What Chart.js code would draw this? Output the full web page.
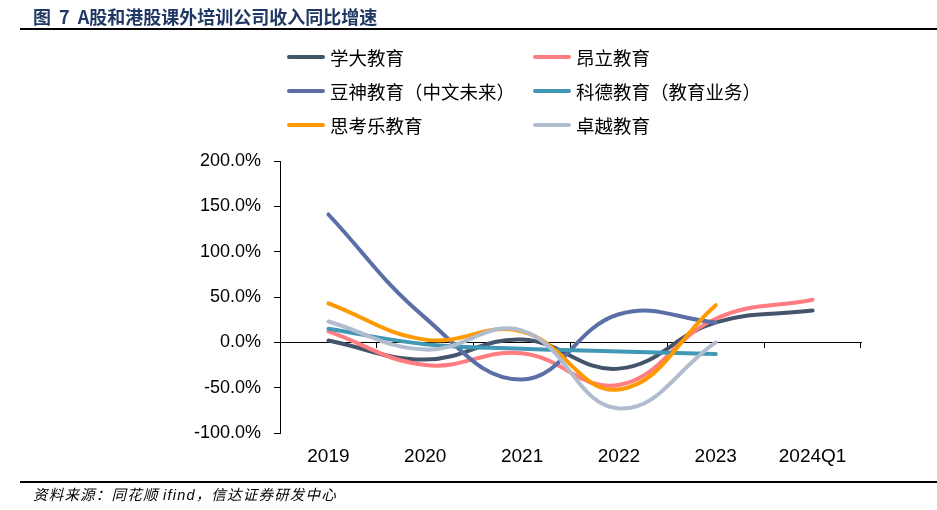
<!DOCTYPE html>
<html>
<head>
<meta charset="utf-8">
<script src="https://cdn.jsdelivr.net/npm/chart.js@4/dist/chart.umd.min.js"></script>
<style>
  body { margin: 0; background: #fff; }
  #wrap { position: relative; width: 937px; height: 510px; overflow: hidden; font-family: "Noto Sans CJK SC", sans-serif; }
  #title { position: absolute; left: 33px; top: 3px; font-size: 18px; font-weight: bold; color: #1F3864; white-space: nowrap; }
  #title .gap { display: inline-block; width: 8px; }
  .rule { position: absolute; left: 20px; width: 917px; height: 1.5px; background: #000; }
  .item { position: absolute; height: 24px; display: flex; align-items: center; font-size: 18.5px; color: #000; white-space: nowrap; }
  .swatch { width: 38px; height: 4px; border-radius: 2px; margin-right: 5px; }
  #source { position: absolute; left: 33px; top: 483px; font-size: 14.5px; font-style: italic; letter-spacing: 1.2px; color: #000; white-space: nowrap; }
  #chart { position: absolute; left: 0; top: 0; }
</style>
</head>
<body>
<div id="wrap">
  <canvas id="chart" width="937" height="510"></canvas>
  <div id="title">图<span class="gap"></span>7<span class="gap"></span>A股和港股课外培训公司收入同比增速</div>
  <div class="rule" style="top:28px"></div>
  <div id="legend"></div>
  <div class="rule" style="top:481px"></div>
  <div id="source">资料来源：同花顺 <span style="font-family:'Liberation Sans',Arial">ifind</span>，信达证券研发中心</div>
</div>
<script>
// categories + values (% YoY)
const years = ['2019', '2020', '2021', '2022', '2023', '2024Q1'];
const xueda   = [2, -19, 3, -29, 22, 35];
const angli   = [12, -25, -12, -47, 26, 47];
const doushen = [141, 27, -41, 31, 22, null];
const kede    = [15, -2, -7, -10, -13, null];
const sikaole = [43, 3, 12, -52, 41, null];
const zhuoyue = [23, -8, 13, -73, 0, null];

const seriesNames = ['学大教育', '昂立教育', '豆神教育（中文未来）', '科德教育（教育业务）', '思考乐教育', '卓越教育'];
const seriesValues = [xueda, angli, doushen, kede, sikaole, zhuoyue];
const seriesColors = ['#44546A', '#FF7C80', '#5B6EA6', '#4198B5', '#FF9900', '#B1BDCE'];
const yTicks = [-100, -50, 0, 50, 100, 150, 200];

// legend (two columns, three rows)
const legend = document.getElementById('legend');
seriesNames.forEach((name, i) => {
  const el = document.createElement('div');
  el.className = 'item';
  el.style.left = (i % 2 === 0 ? 287 : 533) + 'px';
  el.style.top = (45 + Math.floor(i / 2) * 34) + 'px';
  el.innerHTML = '<span class="swatch" style="background:' + seriesColors[i] + '"></span>' + name;
  legend.appendChild(el);
});

Chart.defaults.font.family = '"Liberation Sans", Arial, sans-serif';
Chart.defaults.color = '#000';

const ctx = document.getElementById('chart').getContext('2d');
const chart = new Chart(ctx, {
  type: 'line',
  data: {
    labels: years,
    datasets: seriesNames.map((name, i) => ({
      label: name,
      data: seriesValues[i],
      borderColor: seriesColors[i],
      backgroundColor: seriesColors[i],
      borderWidth: 4,
      borderCapStyle: 'round',
      pointRadius: 0,
      tension: 0.42,
      order: seriesNames.length - i   // later series on top, like the original
    }))
  },
  options: {
    responsive: false,
    animation: false,
    layout: { padding: { left: 0, top: 161, right: 76, bottom: 0 } },
    plugins: { legend: { display: false }, tooltip: { enabled: false } },
    scales: {
      x: {
        offset: true,
        grid: { display: false, drawTicks: false },
        border: { display: false },
        ticks: { font: { size: 19 }, padding: 12, maxRotation: 0 },
        afterFit: s => { s.height = 77; }
      },
      // zero line with category tick marks
      x2: {
        type: 'category',
        labels: years,
        offset: true,
        position: { y: 0 },
        ticks: { display: false },
        grid: { offset: true, drawOnChartArea: false, tickLength: 5, color: '#000' },
        border: { color: '#000', width: 1 }
      },
      y: {
        min: yTicks[0],
        max: yTicks[yTicks.length - 1],
        ticks: {
          stepSize: 50,
          font: { size: 18 },
          padding: 13,
          callback: v => v.toFixed(1) + '%'
        },
        grid: { drawOnChartArea: false, tickLength: 6, color: '#000' },
        border: { color: '#000', width: 1 },
        afterFit: s => { s.width = 280; }
      }
    }
  }
});
</script>
</body>
</html>
